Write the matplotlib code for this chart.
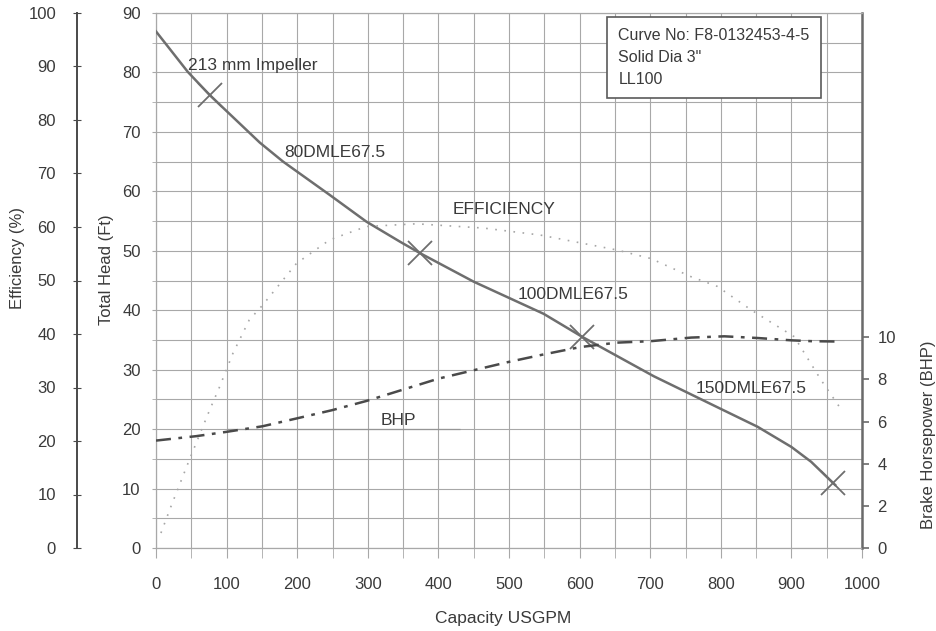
import matplotlib
matplotlib.use("Agg")
import matplotlib.pyplot as plt

plt.rcParams['font.family'] = ['Liberation Sans', 'DejaVu Sans']

# values
head_q = [0, 45, 76, 147, 180, 246, 298, 346, 374, 450, 549, 604, 705, 800, 852, 900, 928, 962]
head_ft = [86.9, 80.1, 76.2, 68.2, 65.0, 59.4, 54.9, 51.5, 49.6, 44.8, 39.4, 35.5, 28.9, 23.4, 20.4, 17.0,
           14.5, 10.6]

eff_q = [7, 21, 47, 76, 90, 109, 132, 151, 199, 246, 298, 369, 464, 544, 653, 701, 758, 795, 843, 866, 904, 942, 971]
eff_pct = [2.8, 7.7, 16.4, 25.8, 30.1, 36.4, 42.6, 45.4, 53.2, 57.6, 60.1, 60.6, 59.8, 58.5, 55.7, 54.1, 50.7, 48.9,
           44.5, 42.6, 39.5, 31.4, 25.8]

bhp_q = [0, 57, 99, 151, 199, 249, 298, 350, 400, 450, 499, 549, 601, 653, 701, 758, 805, 852, 900, 928, 970]
bhp_hp = [5.1, 5.31, 5.51, 5.78, 6.15, 6.54, 6.98, 7.52, 8.04, 8.44, 8.83, 9.19, 9.54, 9.75, 9.82, 9.99, 10.05, 9.97,
          9.86, 9.82, 9.8]

marker_q = [76, 374, 604, 959]
marker_head = [76.2, 49.6, 35.5, 10.9]

# short darker rule beside the BHP label
bhp_rule_head = 20
bhp_rule_q = (100, 430)

x_ticks = list(range(0, 1001, 100))
head_ticks = list(range(0, 91, 10))
eff_ticks = list(range(0, 101, 10))
bhp_ticks = list(range(0, 11, 2))

info_lines = ["Curve No: F8-0132453-4-5", "Solid Dia 3\"", "LL100"]

txt = "#3a3a3a"
grid_c = "#a8a8a8"

fig = plt.figure(figsize=(9.36, 6.31), dpi=100)
ax = fig.add_axes([156 / 936, 1 - 548 / 631, 706 / 936, 535 / 631])

ax.set_xlim(0, 1000)
ax.set_ylim(0, 90)
ax.set_xticks(x_ticks)
ax.set_xticks(range(50, 1000, 100), minor=True)
ax.set_yticks(head_ticks)
ax.set_yticks(range(5, 90, 10), minor=True)
ax.grid(True, which='both', color=grid_c, lw=0.8)
ax.tick_params(axis='x', which='both', length=7, color=grid_c, labelsize=12, labelcolor=txt, pad=14)
ax.tick_params(axis='y', which='both', length=3, color=grid_c, labelsize=12, labelcolor=txt, pad=8)
for s in ['top', 'bottom', 'left']:
    ax.spines[s].set_color(grid_c)
    ax.spines[s].set_linewidth(0.9)
ax.spines['right'].set_color("#6a6a6a")
ax.spines['right'].set_linewidth(1.8)

ax.hlines(bhp_rule_head, *bhp_rule_q, color="#959595", lw=0.9, zorder=2)

# curves
ax.plot(head_q, head_ft, color="#6e6e6e", lw=1.8, zorder=4)
ax.plot(marker_q, marker_head, linestyle='none', marker='x', ms=17, mew=1.3, color="#6e6e6e", zorder=5)

# efficiency axis
ax_eff = ax.twinx()
ax_eff.spines['left'].set_position(('axes', -0.112))
ax_eff.spines['left'].set_visible(True)
ax_eff.spines['left'].set_color("#4a4a4a")
ax_eff.spines['left'].set_linewidth(1.4)
ax_eff.spines['right'].set_visible(False)
ax_eff.spines['top'].set_visible(False)
ax_eff.spines['bottom'].set_visible(False)
ax_eff.yaxis.set_ticks_position('left')
ax_eff.yaxis.set_label_position('left')
ax_eff.set_ylim(0, 100)
ax_eff.set_yticks(eff_ticks)
ax_eff.tick_params(axis='y', direction='inout', length=6, color="#4a4a4a", labelsize=12, labelcolor=txt, pad=12)
ax_eff.plot(eff_q, eff_pct, color="#a6a6a6", lw=1.2, linestyle=(0, (1, 4.5)), zorder=3)

# BHP axis
ax_bhp = ax.twinx()
ax_bhp.set_ylim(0, 25.4)
ax_bhp.set_yticks(bhp_ticks)
for s in ['left', 'top', 'bottom', 'right']:
    ax_bhp.spines[s].set_visible(False)
ax_bhp.tick_params(axis='y', length=5, width=1.2, color="#6a6a6a", labelsize=12, labelcolor=txt, pad=6)
ax_bhp.plot(bhp_q, bhp_hp, color="#4a4a4a", lw=1.8, linestyle=(0, (6, 3, 1.5, 3)), zorder=4)

# curve labels
lab = dict(fontsize=12.5, color=txt, va='center', ha='left')
ax.text(45, 81.2, "213 mm Impeller", **lab)
ax.text(182, 66.5, "80DMLE67.5", **lab)
ax.text(420, 57.0, "EFFICIENCY", **lab)
ax.text(512, 42.7, "100DMLE67.5", **lab)
ax.text(765, 26.8, "150DMLE67.5", **lab)
ax.text(318, 21.4, "BHP", **lab)

# info box
ax.text(655, 82.5, "\n".join(info_lines), fontsize=11.5, color=txt, va='center', ha='left',
        linespacing=1.55, zorder=6,
        bbox=dict(boxstyle='square,pad=0.7', fc='white', ec="#5a5a5a", lw=1.2))

# axis titles
fig.text(503 / 936, 1 - 618 / 631, "Capacity USGPM", fontsize=12.5, color=txt, ha='center', va='center')
fig.text(18 / 936, 1 - 258 / 631, "Efficiency (%)", fontsize=12, color=txt, ha='center', va='center', rotation=90)
fig.text(106 / 936, 1 - 270 / 631, "Total Head (Ft)", fontsize=12, color=txt, ha='center', va='center', rotation=90)
fig.text(928 / 936, 1 - 435 / 631, "Brake Horsepower (BHP)", fontsize=12, color=txt, ha='center', va='center',
         rotation=90)

fig.savefig("out.png", dpi=100)
